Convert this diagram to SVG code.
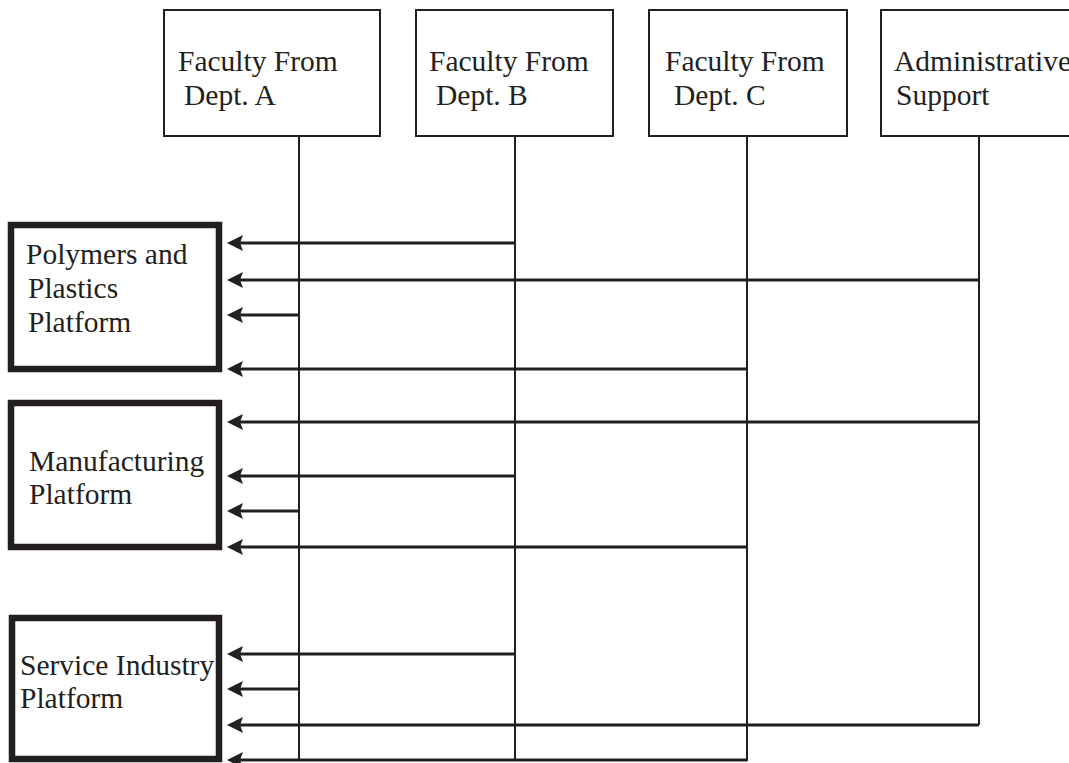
<svg xmlns="http://www.w3.org/2000/svg" width="1069" height="763" viewBox="0 0 1069 763">
<style>
.box{fill:#fff;stroke:#231f20;stroke-width:2}
.plat{fill:#fff;stroke:#231f20;stroke-width:6.5}
.t{font-family:"Liberation Serif","Times New Roman",serif;font-size:29.5px;fill:#231f20}
.v{stroke:#231f20;stroke-width:2;fill:none}
.a{stroke:#231f20;stroke-width:3;fill:none;marker-end:url(#ah)}
</style>
<defs>
<marker id="ah" markerUnits="userSpaceOnUse" markerWidth="20" markerHeight="18" viewBox="0 -9 20 18" refX="6" refY="0" orient="auto">
<path d="M0,-8 L16,0 L0,8 L3,0 Z" fill="#231f20"/>
</marker>
</defs>
<rect width="1069" height="763" fill="#fff"/>
<g id="deptA">
<rect class="box" x="164" y="10" width="216" height="126"/>
<text class="t" x="178" y="71">Faculty From</text>
<text class="t" x="184" y="105">Dept. A</text>
</g>
<g id="deptB">
<rect class="box" x="416" y="10" width="197" height="126"/>
<text class="t" x="429" y="71">Faculty From</text>
<text class="t" x="436" y="105">Dept. B</text>
</g>
<g id="deptC">
<rect class="box" x="649" y="10" width="198" height="126"/>
<text class="t" x="665" y="71">Faculty From</text>
<text class="t" x="674" y="105">Dept. C</text>
</g>
<g id="admin">
<rect class="box" x="881" y="10" width="200" height="126"/>
<text class="t" x="894" y="71">Administrative</text>
<text class="t" x="896" y="105">Support</text>
</g>
<g id="polymers">
<rect class="plat" x="11" y="225" width="208" height="144"/>
<text class="t" x="26" y="264">Polymers and</text>
<text class="t" x="28" y="298">Plastics</text>
<text class="t" x="28" y="332">Platform</text>
</g>
<g id="manufacturing">
<rect class="plat" x="11" y="403" width="208" height="144"/>
<text class="t" x="29" y="471">Manufacturing</text>
<text class="t" x="29" y="504">Platform</text>
</g>
<g id="service">
<rect class="plat" x="12" y="618" width="207" height="141"/>
<text class="t" x="20" y="675">Service Industry</text>
<text class="t" x="20" y="708">Platform</text>
</g>
<g id="connectors">
<line class="v" x1="299" y1="136" x2="299" y2="761"/>
<line class="v" x1="515" y1="136" x2="515" y2="761"/>
<line class="v" x1="747" y1="136" x2="747" y2="761"/>
<line class="v" x1="979" y1="136" x2="979" y2="725"/>
<line class="a" x1="515" y1="243" x2="237" y2="243"/>
<line class="a" x1="979" y1="280" x2="237" y2="280"/>
<line class="a" x1="299" y1="315" x2="237" y2="315"/>
<line class="a" x1="747" y1="369" x2="237" y2="369"/>
<line class="a" x1="979" y1="422" x2="237" y2="422"/>
<line class="a" x1="515" y1="476" x2="237" y2="476"/>
<line class="a" x1="299" y1="511" x2="237" y2="511"/>
<line class="a" x1="747" y1="547" x2="237" y2="547"/>
<line class="a" x1="515" y1="654" x2="237" y2="654"/>
<line class="a" x1="299" y1="689" x2="237" y2="689"/>
<line class="a" x1="979" y1="725" x2="237" y2="725"/>
<line class="a" x1="747" y1="760" x2="237" y2="760"/>
</g>
</svg>
